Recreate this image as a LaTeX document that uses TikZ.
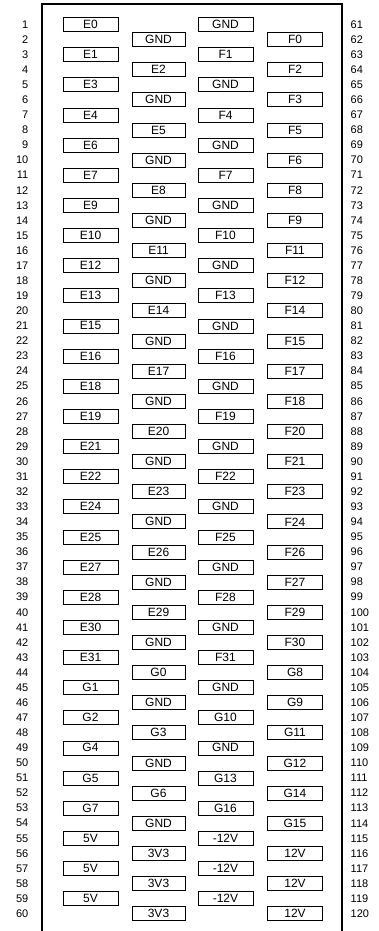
\documentclass[tikz,border=0pt]{standalone}
\usepackage{fontspec}
\setmainfont{Liberation Sans}
\begin{document}
\begin{tikzpicture}[x=1pt,y=-1pt,
  pinbox/.style={draw, line width=0.7pt, minimum width=55pt, minimum height=14pt, inner sep=0pt, font=\fontsize{12}{12}\selectfont},
  pinnum/.style={inner sep=0pt, font=\fontsize{11}{12}\selectfont},
  frame/.style={line width=2pt}]
\useasboundingbox (0,0) rectangle (379,931);
\def\dy{15.07}
\def\yo{24.5}
% frame
\coordinate (fbl) at (42.3,940);
\coordinate (ftl) at (42.3,4);
\coordinate (ftr) at (341.7,4);
\coordinate (fbr) at (341.7,940);
\draw[frame] (fbl) -- (ftl) -- (ftr) -- (fbr);
% pin numbers
\foreach \n in {1,...,60}{
  \pgfmathtruncatemacro\m{\n+60}
  \node[pinnum, anchor=east] (ln\n) at (28.5,{\yo+(\n-1)*\dy}) {\n};
  \node[pinnum, anchor=west] (rn\m) at (350.5,{\yo+(\n-1)*\dy}) {\m};
}
% column 1 (odd rows)
\foreach \lab [count=\i] in {E0,E1,E3,E4,E6,E7,E9,E10,E12,E13,E15,E16,E18,E19,E21,E22,E24,E25,E27,E28,E30,E31,G1,G2,G4,G5,G7,5V,5V,5V}{
  \node[pinbox] (a\i) at (90.5,{\yo+(2*\i-2)*\dy}) {\lab};
}
% column 2 (even rows)
\foreach \lab [count=\i] in {GND,E2,GND,E5,GND,E8,GND,E11,GND,E14,GND,E17,GND,E20,GND,E23,GND,E26,GND,E29,GND,G0,GND,G3,GND,G6,GND,3V3,3V3,3V3}{
  \node[pinbox, minimum width=53pt] (b\i) at (158.5,{\yo+(2*\i-1)*\dy}) {\lab};
}
% column 3 (odd rows)
\foreach \lab [count=\i] in {GND,F1,GND,F4,GND,F7,GND,F10,GND,F13,GND,F16,GND,F19,GND,F22,GND,F25,GND,F28,GND,F31,GND,G10,GND,G13,G16,-12V,-12V,-12V}{
  \node[pinbox] (c\i) at (225.5,{\yo+(2*\i-2)*\dy}) {\lab};
}
% column 4 (even rows)
\foreach \lab [count=\i] in {F0,F2,F3,F5,F6,F8,F9,F11,F12,F14,F15,F17,F18,F20,F21,F23,F24,F26,F27,F29,F30,G8,G9,G11,G12,G14,G15,12V,12V,12V}{
  \node[pinbox] (d\i) at (295,{\yo+(2*\i-1)*\dy}) {\lab};
}
\end{tikzpicture}
\end{document}
